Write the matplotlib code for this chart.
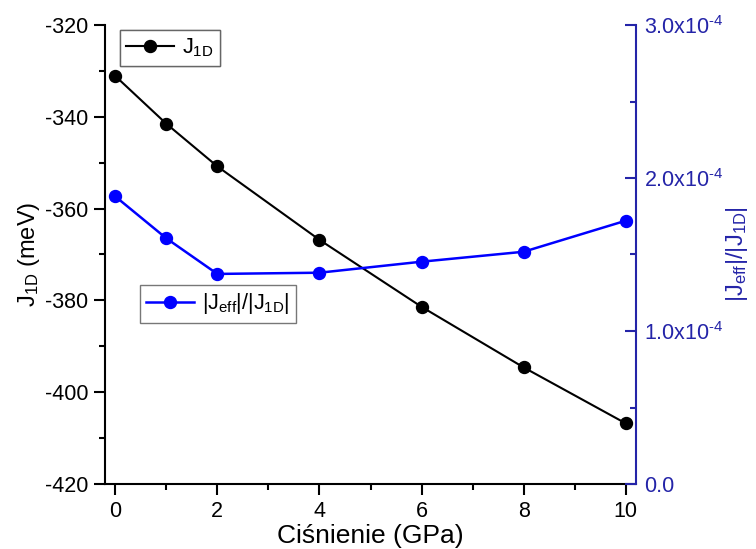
import matplotlib
matplotlib.use("Agg")
import matplotlib.pyplot as plt
from matplotlib.ticker import FixedLocator, MultipleLocator, FuncFormatter

plt.rcParams['font.family'] = ['Liberation Sans', 'DejaVu Sans']
plt.rcParams['mathtext.fontset'] = 'custom'
plt.rcParams['mathtext.rm'] = 'Liberation Sans'
plt.rcParams['mathtext.it'] = 'Liberation Sans'
plt.rcParams['mathtext.bf'] = 'Liberation Sans:bold'
plt.rcParams['axes.unicode_minus'] = False

# Data
pressure = [0, 1, 2, 4, 6, 8, 10]
j1d = [-331.1, -341.5, -350.8, -366.8, -381.4, -394.6, -406.8]
ratio = [1.88e-4, 1.606e-4, 1.373e-4, 1.381e-4, 1.453e-4, 1.518e-4, 1.721e-4]
right_ticks = [0.0, 1.0e-4, 2.0e-4, 3.0e-4]
right_labels = ['0.0',
                r'$\mathregular{1.0x10^{\text{-}4}}$',
                r'$\mathregular{2.0x10^{\text{-}4}}$',
                r'$\mathregular{3.0x10^{\text{-}4}}$']

axis_blue = '#2424A8'

fig = plt.figure(figsize=(7.56, 5.49), dpi=100)
ax = fig.add_axes([105/756, 65/549, (636-105)/756, (484-25)/549])
ax2 = ax.twinx()

l1, = ax.plot(pressure, j1d, color='black', marker='o', markersize=8.6, linewidth=1.5,
              label=r'J$_{\mathregular{1D}}$')
l2, = ax2.plot(pressure, ratio, color='#0000FF', marker='o', markersize=8.6, linewidth=1.8,
               label=r'|J$_{\mathregular{eff}}$|/|J$_{\mathregular{1D}}$|')

ax.set_xlim(-0.2, 10.2)
ax.set_ylim(-420, -320)
ax2.set_ylim(0, 3e-4)

ax.xaxis.set_major_locator(MultipleLocator(2))
ax.xaxis.set_minor_locator(MultipleLocator(1))
ax.yaxis.set_major_locator(MultipleLocator(20))
ax.yaxis.set_minor_locator(MultipleLocator(10))
ax2.yaxis.set_major_locator(FixedLocator(right_ticks))
ax2.yaxis.set_minor_locator(MultipleLocator(0.5e-4))


def fmt_right(v, p):
    k = int(round(v / 1e-4))
    if abs(v / 1e-4 - k) < 1e-6 and 0 <= k < len(right_labels):
        return right_labels[k]
    return ''


ax2.yaxis.set_major_formatter(FuncFormatter(fmt_right))

for a in (ax, ax2):
    a.spines['top'].set_visible(False)
ax.spines['right'].set_visible(False)
ax2.spines['left'].set_visible(False)
ax2.spines['bottom'].set_visible(False)
for s in ('left', 'bottom'):
    ax.spines[s].set_linewidth(1.5)
ax2.spines['right'].set_linewidth(1.5)
ax2.spines['right'].set_color(axis_blue)

ax.tick_params(axis='both', which='major', direction='out', length=8, width=1.5, labelsize=15.5, pad=4)
ax.tick_params(axis='both', which='minor', direction='out', length=4, width=1.5)
ax2.tick_params(axis='y', which='major', direction='in', length=8, width=1.5, labelsize=15.5,
                colors=axis_blue, pad=6)
ax2.tick_params(axis='y', which='minor', direction='in', length=4, width=1.5, colors=axis_blue)

ax.set_xlabel('Ciśnienie (GPa)', fontsize=19, labelpad=2)
ax.set_ylabel(r'J$_{\mathregular{1D}}$ (meV)', fontsize=17, labelpad=2)
ax2.set_ylabel(r'|J$_{\mathregular{eff}}$|/|J$_{\mathregular{1D}}$|', fontsize=17, color=axis_blue, labelpad=0)

leg1 = ax.legend(handles=[l1], loc='upper left', bbox_to_anchor=(120/756, 1 - 30/549),
                 bbox_transform=fig.transFigure, fontsize=15.5, frameon=True, fancybox=False,
                 edgecolor='#555555', borderpad=0.3, handlelength=2.2, handletextpad=0.4,
                 borderaxespad=0)
leg1.get_frame().set_linewidth(1.0)
ax.add_artist(leg1)
leg2 = ax2.legend(handles=[l2], loc='upper left', bbox_to_anchor=(140/756, 1 - 285/549),
                  bbox_transform=fig.transFigure, fontsize=15.5, frameon=True, fancybox=False,
                  edgecolor='#555555', borderpad=0.3, handlelength=2.2, handletextpad=0.4,
                  borderaxespad=0)
leg2.get_frame().set_linewidth(1.0)

fig.savefig('out.png', dpi=100)
